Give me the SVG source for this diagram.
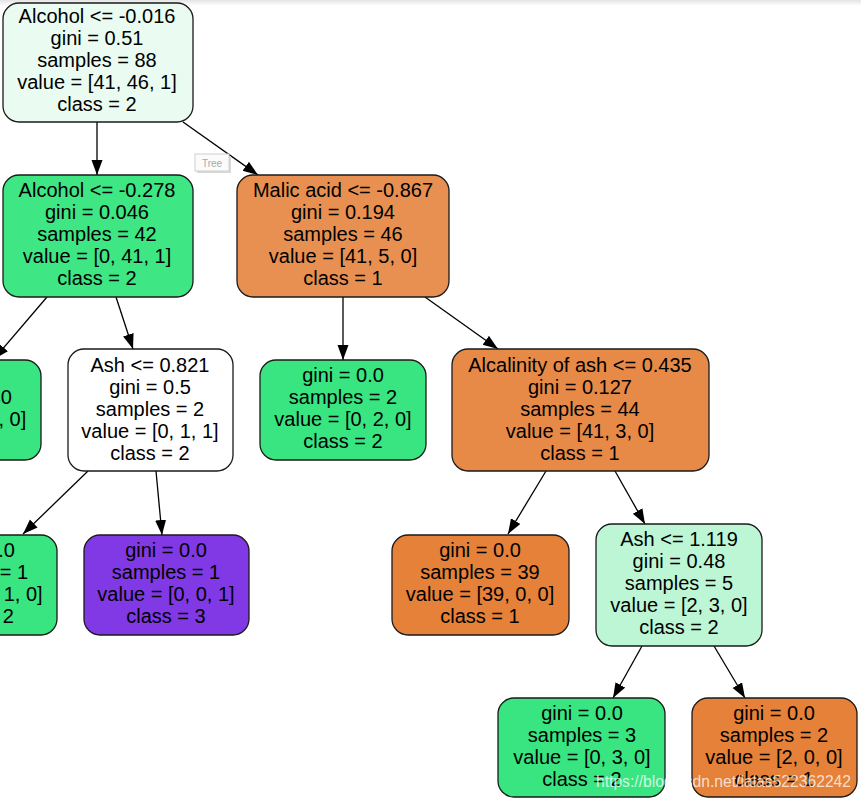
<svg xmlns="http://www.w3.org/2000/svg" width="861" height="800" viewBox="0 0 861 800">
<defs>
<linearGradient id="topband" x1="0" y1="0" x2="0" y2="1">
<stop offset="0" stop-color="#e4e4e4"/>
<stop offset="1" stop-color="#ffffff"/>
</linearGradient>
<marker id="arr" markerUnits="userSpaceOnUse" markerWidth="16" markerHeight="12" refX="15" refY="5.5" orient="auto">
<path d="M0,0 L15,5.5 L0,11 z" fill="#000"/>
</marker>
<style>
.box{stroke:#1a1a1a;stroke-width:1.3}
.t{font-family:"Liberation Sans",Arial,sans-serif;font-size:20px;fill:#000;text-anchor:middle}
.e{stroke:#000;stroke-width:1.3;fill:none;marker-end:url(#arr)}
</style>
</defs>
<rect x="0" y="0" width="861" height="800" fill="#fff"/>
<rect x="0" y="0" width="861" height="6" fill="url(#topband)"/>

<g id="connectors">
<line class="e" x1="97" y1="122" x2="97" y2="175"/>
<line class="e" x1="183" y1="122" x2="258" y2="175"/>
<line class="e" x1="47" y1="297" x2="-6" y2="359"/>
<line class="e" x1="116" y1="297" x2="133" y2="349"/>
<line class="e" x1="88" y1="471" x2="23" y2="534"/>
<line class="e" x1="156" y1="471" x2="162" y2="535"/>
<line class="e" x1="343" y1="297" x2="343" y2="360"/>
<line class="e" x1="425" y1="297" x2="498" y2="349"/>
<line class="e" x1="546" y1="471" x2="508" y2="534"/>
<line class="e" x1="615" y1="471" x2="645" y2="524"/>
<line class="e" x1="642" y1="646" x2="613" y2="698"/>
<line class="e" x1="714" y1="646" x2="745" y2="698"/>
</g>

<g id="node0">
<rect class="box" x="3" y="3" width="190" height="119" rx="16" fill="#eafcf1"/>
<text class="t" x="97" y="23">Alcohol &lt;= -0.016</text>
<text class="t" x="97" y="45">gini = 0.51</text>
<text class="t" x="97" y="67">samples = 88</text>
<text class="t" x="97" y="89">value = [41, 46, 1]</text>
<text class="t" x="97" y="111">class = 2</text>
</g>

<g id="node1">
<rect class="box" x="3" y="175" width="190" height="122" rx="16" fill="#3ee684"/>
<text class="t" x="97" y="197">Alcohol &lt;= -0.278</text>
<text class="t" x="97" y="219">gini = 0.046</text>
<text class="t" x="97" y="241">samples = 42</text>
<text class="t" x="97" y="263">value = [0, 41, 1]</text>
<text class="t" x="97" y="285">class = 2</text>
</g>

<g id="node2">
<rect class="box" x="-125" y="360" width="166" height="100" rx="16" fill="#39e581"/>
<text class="t" x="-48" y="382">gini = 0.0</text>
<text class="t" x="-48" y="404">samples = 40</text>
<text class="t" x="-48" y="426">value = [0, 40, 0]</text>
<text class="t" x="-48" y="448">class = 2</text>
</g>

<g id="node3">
<rect class="box" x="68" y="349" width="165" height="122" rx="16" fill="#ffffff"/>
<text class="t" x="150" y="372">Ash &lt;= 0.821</text>
<text class="t" x="150" y="394">gini = 0.5</text>
<text class="t" x="150" y="416">samples = 2</text>
<text class="t" x="150" y="438">value = [0, 1, 1]</text>
<text class="t" x="150" y="460">class = 2</text>
</g>

<g id="node4">
<rect class="box" x="-109" y="535" width="166" height="100" rx="16" fill="#39e581"/>
<text class="t" x="-26" y="557">gini = 0.0</text>
<text class="t" x="-26" y="579">samples = 1</text>
<text class="t" x="-26" y="601">value = [0, 1, 0]</text>
<text class="t" x="-26" y="623">class = 2</text>
</g>

<g id="node5">
<rect class="box" x="84" y="535" width="165" height="100" rx="16" fill="#8139e5"/>
<text class="t" x="166" y="557">gini = 0.0</text>
<text class="t" x="166" y="579">samples = 1</text>
<text class="t" x="166" y="601">value = [0, 0, 1]</text>
<text class="t" x="166" y="623">class = 3</text>
</g>

<g id="node6">
<rect class="box" x="237" y="175" width="212" height="122" rx="16" fill="#e89051"/>
<text class="t" x="343" y="197">Malic acid &lt;= -0.867</text>
<text class="t" x="343" y="219">gini = 0.194</text>
<text class="t" x="343" y="241">samples = 46</text>
<text class="t" x="343" y="263">value = [41, 5, 0]</text>
<text class="t" x="343" y="285">class = 1</text>
</g>

<g id="node7">
<rect class="box" x="260" y="360" width="166" height="100" rx="16" fill="#39e581"/>
<text class="t" x="343" y="382">gini = 0.0</text>
<text class="t" x="343" y="404">samples = 2</text>
<text class="t" x="343" y="426">value = [0, 2, 0]</text>
<text class="t" x="343" y="448">class = 2</text>
</g>

<g id="node8">
<rect class="box" x="452" y="349" width="257" height="122" rx="16" fill="#e78a48"/>
<text class="t" x="580" y="372">Alcalinity of ash &lt;= 0.435</text>
<text class="t" x="580" y="394">gini = 0.127</text>
<text class="t" x="580" y="416">samples = 44</text>
<text class="t" x="580" y="438">value = [41, 3, 0]</text>
<text class="t" x="580" y="460">class = 1</text>
</g>

<g id="node9">
<rect class="box" x="392" y="535" width="177" height="100" rx="16" fill="#e58139"/>
<text class="t" x="480" y="557">gini = 0.0</text>
<text class="t" x="480" y="579">samples = 39</text>
<text class="t" x="480" y="601">value = [39, 0, 0]</text>
<text class="t" x="480" y="623">class = 1</text>
</g>

<g id="node10">
<rect class="box" x="596" y="524" width="166" height="122" rx="16" fill="#bdf6d5"/>
<text class="t" x="679" y="546">Ash &lt;= 1.119</text>
<text class="t" x="679" y="568">gini = 0.48</text>
<text class="t" x="679" y="590">samples = 5</text>
<text class="t" x="679" y="612">value = [2, 3, 0]</text>
<text class="t" x="679" y="634">class = 2</text>
</g>

<g id="node11">
<rect class="box" x="498" y="698" width="167" height="99" rx="16" fill="#39e581"/>
<text class="t" x="582" y="720">gini = 0.0</text>
<text class="t" x="582" y="742">samples = 3</text>
<text class="t" x="582" y="764">value = [0, 3, 0]</text>
<text class="t" x="582" y="786">class = 2</text>
</g>

<g id="node12">
<rect class="box" x="692" y="698" width="165" height="99" rx="16" fill="#e58139"/>
<text class="t" x="774" y="720">gini = 0.0</text>
<text class="t" x="774" y="742">samples = 2</text>
<text class="t" x="774" y="764">value = [2, 0, 0]</text>
<text class="t" x="774" y="786">class = 1</text>
</g>

<g id="tooltip">
<rect x="197" y="156" width="34" height="17" fill="#d8d8d8"/>
<rect x="195" y="154" width="34" height="17" fill="#fbfbfb" stroke="#cfcfcf" stroke-width="1"/>
<text x="212" y="166.5" font-family="'Liberation Sans',Arial,sans-serif" font-size="10" fill="#a8a8a8" text-anchor="middle">Tree</text>
</g>

<text x="596" y="787" font-family="'Liberation Sans',Arial,sans-serif" font-size="17" fill="#ffffff" fill-opacity="0.75" textLength="255" lengthAdjust="spacingAndGlyphs">https://blog.csdn.net/lalas522362242</text>
</svg>
